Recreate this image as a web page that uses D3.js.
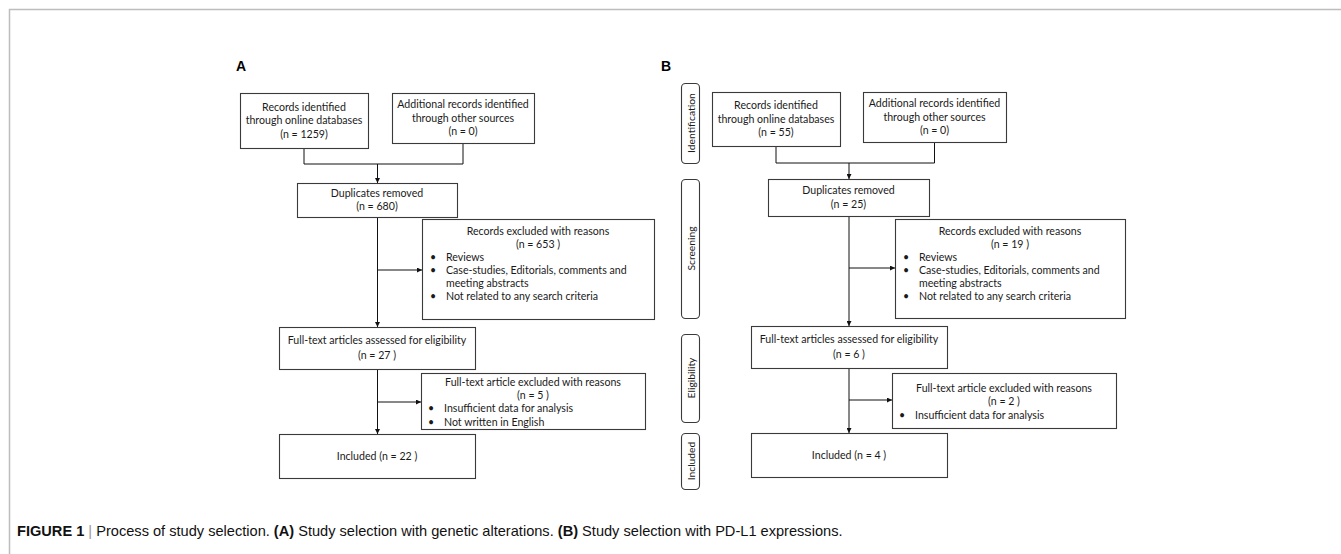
<!DOCTYPE html>
<html>
<head>
<meta charset="utf-8">
<script src="https://cdn.jsdelivr.net/npm/d3@7"></script>
<style>
  body { margin: 0; background: #fff; }
  svg { display: block; }
</style>
</head>
<body>
<div id="chart"></div>
<script>
// flow counts, in order: online db, other sources, after duplicates, excluded, full-text, excluded, included
const countsA = [1259, 0, 680, 653, 27, 5, 22];
const countsB = [55, 0, 25, 19, 6, 2, 4];
const exclReasons1 = ["Reviews", "Case-studies, Editorials, comments and|meeting abstracts", "Not related to any search criteria"];
const exclReasonsA2 = ["Insufficient data for analysis", "Not written in English"];
const exclReasonsB2 = ["Insufficient data for analysis"];
const stages = ["Identification", "Screening", "Eligibility", "Included"];
const panelLetters = ["A", "B"];

const width = 1341;
const height = 554;
const font = "Lato, 'Open Sans', sans-serif";
const ink = "#1a1a1a";

const svg = d3.select('#chart')
  .append('svg')
  .attr('width', width)
  .attr('height', height);

svg.append("defs").append("marker")
  .attr("id", "arr")
  .attr("viewBox", "0 0 10 10")
  .attr("refX", 10).attr("refY", 5)
  .attr("markerWidth", 5).attr("markerHeight", 5)
  .attr("markerUnits", "userSpaceOnUse")
  .attr("orient", "auto")
  .append("path").attr("d", "M0,0L10,5L0,10Z").attr("fill", "#111");

// figure frame (top + left rule)
svg.append("path")
  .attr("d", `M9.5,${height}V9.5H${width}`)
  .attr("fill", "none").attr("stroke", "#bdbdbd").attr("stroke-width", 1.5);

// box geometry per panel [x0, y0, x1, y1]
const layouts = [
  {
    rec: [240, 93, 368, 148], add: [392, 93, 534, 143], dup: [297, 183, 457, 217],
    ex1: [422, 219, 654, 319], full: [279, 327, 475, 369], ex2: [421, 373, 645, 429],
    inc: [279, 434, 475, 478], joinY: 164, arrow1: 270, arrow2: 402, letter: [236, 71],
    counts: countsA, reasons2: exclReasonsA2
  },
  {
    rec: [712, 92, 840, 146], add: [863, 92, 1006, 142], dup: [768, 179, 929, 216],
    ex1: [895, 219, 1125, 318], full: [751, 326, 947, 368], ex2: [892, 373, 1116, 428],
    inc: [751, 433, 947, 477], joinY: 163, arrow1: 268, arrow2: 400, letter: [661, 71],
    counts: countsB, reasons2: exclReasonsB2,
    stageBoxes: [[681, 83, 699, 163], [681, 179, 699, 318], [681, 334, 699, 422], [681, 433, 699, 489]]
  }
];

function box(g, r) {
  g.append("rect")
    .attr("x", r[0] + 0.5).attr("y", r[1] + 0.5)
    .attr("width", r[2] - r[0]).attr("height", r[3] - r[1])
    .attr("fill", "#fff").attr("stroke", "#3a3a3a").attr("stroke-width", 1.1);
}

function centredLines(g, r, lines, lh) {
  const cx = (r[0] + r[2]) / 2, cy = (r[1] + r[3]) / 2;
  const y0 = cy - (lines.length - 1) * lh / 2;
  g.append("g").selectAll("text").data(lines).join("text")
    .attr("x", cx).attr("y", (d, i) => y0 + i * lh)
    .attr("dy", "0.35em")
    .attr("text-anchor", "middle")
    .attr("font-family", font).attr("font-size", 10.6).attr("fill", ink)
    .text(d => d);
}

function reasonBox(g, r, title, n, reasons, yStart, lh, bx, tx) {
  const cx = (r[0] + r[2]) / 2;
  g.append("text").attr("x", cx).attr("y", yStart).attr("dy", "0.35em")
    .attr("text-anchor", "middle").attr("font-family", font).attr("font-size", 10.6).attr("fill", ink)
    .text(title);
  g.append("text").attr("x", cx).attr("y", yStart + lh).attr("dy", "0.35em")
    .attr("text-anchor", "middle").attr("font-family", font).attr("font-size", 10.6).attr("fill", ink)
    .text(`(n = ${n} )`);
  let row = 2;
  reasons.forEach(reason => {
    const parts = reason.split("|");
    g.append("text").attr("x", bx).attr("y", yStart + row * lh).attr("dy", "0.35em")
      .attr("font-family", font).attr("font-size", 10.6).attr("fill", ink).text("•");
    parts.forEach(p => {
      g.append("text").attr("x", tx).attr("y", yStart + row * lh).attr("dy", "0.35em")
        .attr("font-family", font).attr("font-size", 10.6).attr("fill", ink).text(p);
      row++;
    });
  });
}

function line(g, pts, arrow) {
  g.append("path")
    .attr("d", d3.line()(pts))
    .attr("fill", "none").attr("stroke", "#111").attr("stroke-width", 1)
    .attr("marker-end", arrow ? "url(#arr)" : null);
}

layouts.forEach((L, p) => {
  const g = svg.append("g");
  const c = L.counts;
  const mid = r => (r[0] + r[2]) / 2;
  const trunk = mid(L.dup) + 0.5;

  // connectors
  line(g, [[mid(L.rec), L.rec[3]], [mid(L.rec), L.joinY], [mid(L.add), L.joinY], [mid(L.add), L.add[3]]], false);
  line(g, [[trunk, L.joinY], [trunk, L.dup[1]]], true);
  line(g, [[trunk, L.dup[3]], [trunk, L.full[1]]], true);
  line(g, [[trunk, L.arrow1], [L.ex1[0], L.arrow1]], true);
  line(g, [[trunk, L.full[3]], [trunk, L.inc[1]]], true);
  line(g, [[trunk, L.arrow2], [L.ex2[0], L.arrow2]], true);

  ["rec", "add", "dup", "ex1", "full", "ex2", "inc"].forEach(k => box(g, L[k]));

  centredLines(g, L.rec, ["Records identified", "through online databases", `(n = ${c[0]})`], 13.5);
  centredLines(g, L.add, ["Additional records identified", "through other sources", `(n = ${c[1]})`], 13.5);
  centredLines(g, L.dup, ["Duplicates removed", `(n = ${c[2]})`], 13.5);
  centredLines(g, L.full, ["Full-text articles assessed for eligibility", `(n = ${c[4]} )`], 15);
  centredLines(g, L.inc, [`Included (n = ${c[6]} )`], 14);

  reasonBox(g, L.ex1, "Records excluded with reasons", c[3], exclReasons1,
    L.ex1[1] + 12.5, 13, L.ex1[0] + 8, L.ex1[0] + 24);
  const n2 = 2 + L.reasons2.length;
  const y2 = (L.ex2[1] + L.ex2[3]) / 2 - (n2 - 1) * 13.3 / 2 + 1;
  reasonBox(g, L.ex2, "Full-text article excluded with reasons", c[5], L.reasons2,
    y2, 13.3, L.ex2[0] + 7, L.ex2[0] + 23);

  g.append("text")
    .attr("x", L.letter[0]).attr("y", L.letter[1])
    .attr("font-family", "'Liberation Sans', Arial, sans-serif")
    .attr("font-weight", "bold").attr("font-size", 14).attr("fill", "#000")
    .text(panelLetters[p]);

  if (L.stageBoxes) {
    const sg = g.selectAll("g.stage").data(stages).join("g").attr("class", "stage");
    sg.append("rect")
      .attr("x", (d, i) => L.stageBoxes[i][0] + 0.5)
      .attr("y", (d, i) => L.stageBoxes[i][1] + 0.5)
      .attr("width", (d, i) => L.stageBoxes[i][2] - L.stageBoxes[i][0])
      .attr("height", (d, i) => L.stageBoxes[i][3] - L.stageBoxes[i][1])
      .attr("rx", 4).attr("fill", "#fff").attr("stroke", "#3a3a3a").attr("stroke-width", 1.1);
    sg.append("text")
      .attr("transform", (d, i) => {
        const b = L.stageBoxes[i];
        return `translate(${(b[0] + b[2]) / 2 + 1},${(b[1] + b[3]) / 2}) rotate(-90)`;
      })
      .attr("dy", "0.35em").attr("text-anchor", "middle")
      .attr("font-family", font).attr("font-size", 10.3).attr("fill", ink)
      .text(d => d);
  }
});

// caption
const cap = svg.append("text")
  .attr("x", 17).attr("y", 536)
  .attr("font-family", "'Liberation Sans', Arial, sans-serif")
  .attr("font-size", 14.6).attr("fill", "#111");
cap.append("tspan").attr("font-weight", "bold").text("FIGURE 1");
cap.append("tspan").attr("fill", "#999").text(" | ");
cap.append("tspan").text("Process of study selection. ");
cap.append("tspan").attr("font-weight", "bold").text("(A)");
cap.append("tspan").text(" Study selection with genetic alterations. ");
cap.append("tspan").attr("font-weight", "bold").text("(B)");
cap.append("tspan").text(" Study selection with PD-L1 expressions.");
</script>
</body>
</html>
